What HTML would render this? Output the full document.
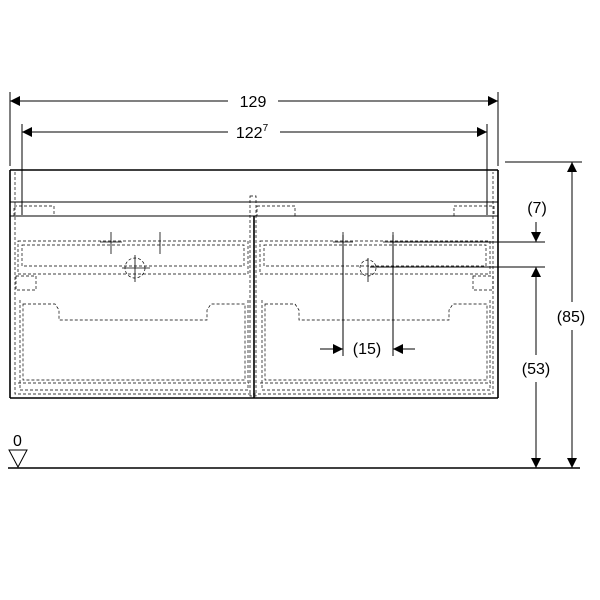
<!DOCTYPE html>
<html><head><style>body{margin:0;background:#fff}svg{display:block}text{font-family:"Liberation Sans",sans-serif;fill:#000}</style></head><body>
<svg width="600" height="600" viewBox="0 0 600 600" xmlns="http://www.w3.org/2000/svg">
<defs>
<marker id="a" viewBox="0 0 10 10" refX="10" refY="5" markerWidth="12" markerHeight="10" markerUnits="userSpaceOnUse" orient="auto-start-reverse"><path d="M0,0L10,5L0,10z" fill="#000"/></marker>
</defs>
<g stroke="#000" stroke-width="1" fill="none">
<line x1="10" y1="92" x2="10" y2="166"/><line x1="498" y1="92" x2="498" y2="166"/>
<line x1="22" y1="124" x2="22" y2="215"/><line x1="487" y1="124" x2="487" y2="215"/>
<line x1="10" y1="101" x2="228" y2="101" marker-start="url(#a)"/>
<line x1="278" y1="101" x2="498" y2="101" marker-end="url(#a)"/>
<line x1="22" y1="132" x2="228" y2="132" marker-start="url(#a)"/>
<line x1="280" y1="132" x2="487" y2="132" marker-end="url(#a)"/>
<line x1="505" y1="162" x2="582" y2="162"/>
<line x1="572" y1="162" x2="572" y2="302" marker-start="url(#a)"/>
<line x1="572" y1="330" x2="572" y2="468" marker-end="url(#a)"/>
<line x1="536" y1="222" x2="536" y2="242" marker-end="url(#a)"/>
<line x1="390" y1="242" x2="545" y2="242"/>
<line x1="370" y1="267" x2="545" y2="267"/>
<line x1="536" y1="267" x2="536" y2="355" marker-start="url(#a)"/>
<line x1="536" y1="382" x2="536" y2="468" marker-end="url(#a)"/>
<line x1="8" y1="468" x2="580" y2="468" stroke-width="1.5"/>
<path d="M9,450L27,450L18,467z"/>
<line x1="343" y1="235" x2="343" y2="356"/><line x1="393" y1="235" x2="393" y2="356"/>
<line x1="320" y1="349" x2="343" y2="349" marker-end="url(#a)"/>
<line x1="415" y1="349" x2="393" y2="349" marker-end="url(#a)"/>
<g stroke-width="1.6">
<line x1="10" y1="170" x2="498" y2="170"/>
<line x1="10" y1="170" x2="10" y2="398"/><line x1="498" y1="170" x2="498" y2="398"/>
<line x1="10" y1="398" x2="498" y2="398"/>
<line x1="254" y1="216" x2="254" y2="398"/>
</g>
<line x1="10" y1="202" x2="498" y2="202"/>
<line x1="10" y1="216" x2="498" y2="216"/>
</g>
<g stroke="#000" stroke-width="0.7" fill="none" stroke-dasharray="3,2">
<path d="M15,172V394H493V172"/>
<rect x="250" y="196" width="6" height="200"/>
<rect x="14" y="206" width="40" height="10"/><rect x="257" y="206" width="38" height="10"/><rect x="454" y="206" width="40" height="10"/>
<rect x="18" y="241" width="230" height="33"/><rect x="22" y="245" width="222" height="21"/>
<rect x="260" y="241" width="230" height="33"/><rect x="264" y="245" width="222" height="21"/>
<rect x="16" y="276" width="20" height="14"/><rect x="473" y="276" width="20" height="14"/>
<path d="M23,304H55l4,6v10H207v-10l4,-6H245V380H23z"/>
<path d="M20,300V390H248V300"/><path d="M18,383H249"/>
<path d="M265,304H295l4,6v10H449v-10l4,-6H487V380H265z"/>
<path d="M262,300V390H490V300"/><path d="M260,383H491"/>
<circle cx="135" cy="268" r="10"/><circle cx="368" cy="268" r="8"/>
</g>
<g stroke="#000" stroke-width="0.8">
<line x1="111" y1="232" x2="111" y2="254"/><line x1="100" y1="242" x2="122" y2="242"/>
<line x1="160" y1="232" x2="160" y2="254"/>
<line x1="135" y1="255" x2="135" y2="282"/><line x1="122" y1="268" x2="150" y2="268"/>
<line x1="343" y1="232" x2="343" y2="250"/><line x1="333" y1="242" x2="353" y2="242"/>
<line x1="393" y1="232" x2="393" y2="250"/><line x1="383" y1="242" x2="400" y2="242"/>
<line x1="368" y1="258" x2="368" y2="282"/>
</g>
<g font-size="16">
<text x="253" y="107" text-anchor="middle">129</text>
<text x="252" y="138" text-anchor="middle">122<tspan font-size="10" dy="-7">7</tspan></text>
<text x="537" y="213" text-anchor="middle">(7)</text>
<text x="571" y="322" text-anchor="middle">(85)</text>
<text x="536" y="374" text-anchor="middle">(53)</text>
<text x="367" y="354" text-anchor="middle">(15)</text>
<text x="13" y="446">0</text>
</g>
</svg>
</body></html>
